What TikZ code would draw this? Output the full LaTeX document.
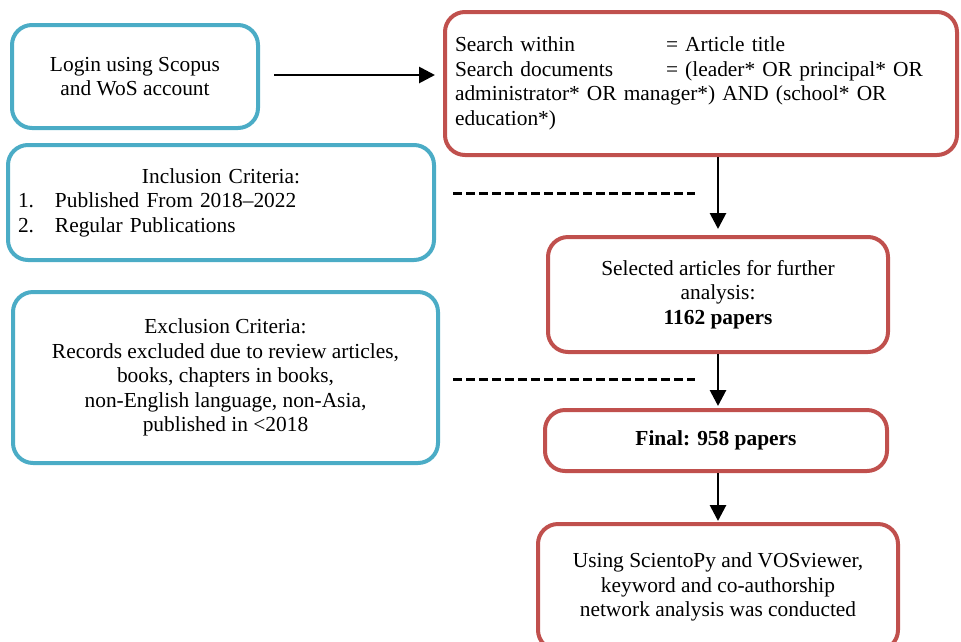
\documentclass[tikz,border=0pt]{standalone}
\usepackage{fontspec}
\setmainfont{Liberation Serif}
\usepackage{tikz}
\usetikzlibrary{arrows.meta, positioning}

\definecolor{boxblue}{RGB}{75,172,198}
\definecolor{boxred}{RGB}{192,80,77}

\begin{document}
\begin{tikzpicture}[
        x=1pt, y=-1pt,
        font=\fontsize{21.4}{24.5}\selectfont,
        bluebox/.style={draw=boxblue, line width=4pt, rounded corners=20pt, align=center},
        redbox/.style={draw=boxred, line width=4pt, rounded corners=20pt, align=center},
        flow/.style={-{Triangle[length=16pt,width=16pt]}, line width=2.8pt},
        cut/.style={line width=3pt, dash pattern=on 9pt off 4pt}
    ]
    \useasboundingbox (0,0) rectangle (961,641);

    % Left column (blue)
    \node[bluebox, minimum width=246pt, minimum height=103pt] (login) at (135,76.5)
        {Login using Scopus\\and WoS account};
    \node[bluebox, minimum width=426pt, minimum height=115pt, align=left,
          text width=406pt, inner xsep=10pt] (incl) at (221,202.5)
        {\makebox[406pt][c]{Inclusion Criteria:}\\
         \makebox[37pt][l]{1.}Published From 2018--2022\\
         \makebox[37pt][l]{2.}Regular Publications};
    \node[bluebox, minimum width=425pt, minimum height=171pt] (excl) at (225.5,377.5)
        {Exclusion Criteria:\\Records excluded due to review articles,\\books, chapters in books,\\
         non-English language, non-Asia,\\published in <2018};

    % Right column (red)
    \node[redbox, minimum width=512pt, minimum height=143pt, align=left,
          text width=492pt] (search) at (701,83.5)
        {\makebox[211pt][l]{Search within}= Article title\\
         \makebox[211pt][l]{Search documents}= (leader* OR principal* OR\\
         administrator* OR manager*) AND (school* OR\\
         education*)};
    \node[redbox, minimum width=340pt, minimum height=115pt] (select) at (718,294.5)
        {Selected articles for further\\analysis:\\\textbf{1162 papers}};
    \node[redbox, minimum width=342pt, minimum height=61pt] (final) at (716,440.5)
        {\textbf{Final: 958 papers}};
    \node[redbox, minimum width=360pt, minimum height=126pt] (tools) at (718,587)
        {Using ScientoPy and VOSviewer,\\keyword and co-authorship\\network analysis was conducted};

    % Arrows
    \draw[flow, shorten <=14pt, shorten >=8pt] (login.east |- 0,75) -- (search.west |- 0,75);
    \draw[flow, shorten >=6pt] (select.north |- search.south) -- (select.north);
    \draw[flow, shorten >=2pt] (select.south) -- (select.south |- final.north);
    \draw[flow, shorten >=1pt] (final.south -| tools.north) -- (tools.north);

    % Dashed cut lines
    \coordinate (cutA1) at (453,193);
    \coordinate (cutA2) at (695,193);
    \coordinate (cutB1) at (453,379);
    \coordinate (cutB2) at (695,379);
    \draw[cut] (cutA1) -- (cutA2);
    \draw[cut] (cutB1) -- (cutB2);

\end{tikzpicture}
\end{document}
